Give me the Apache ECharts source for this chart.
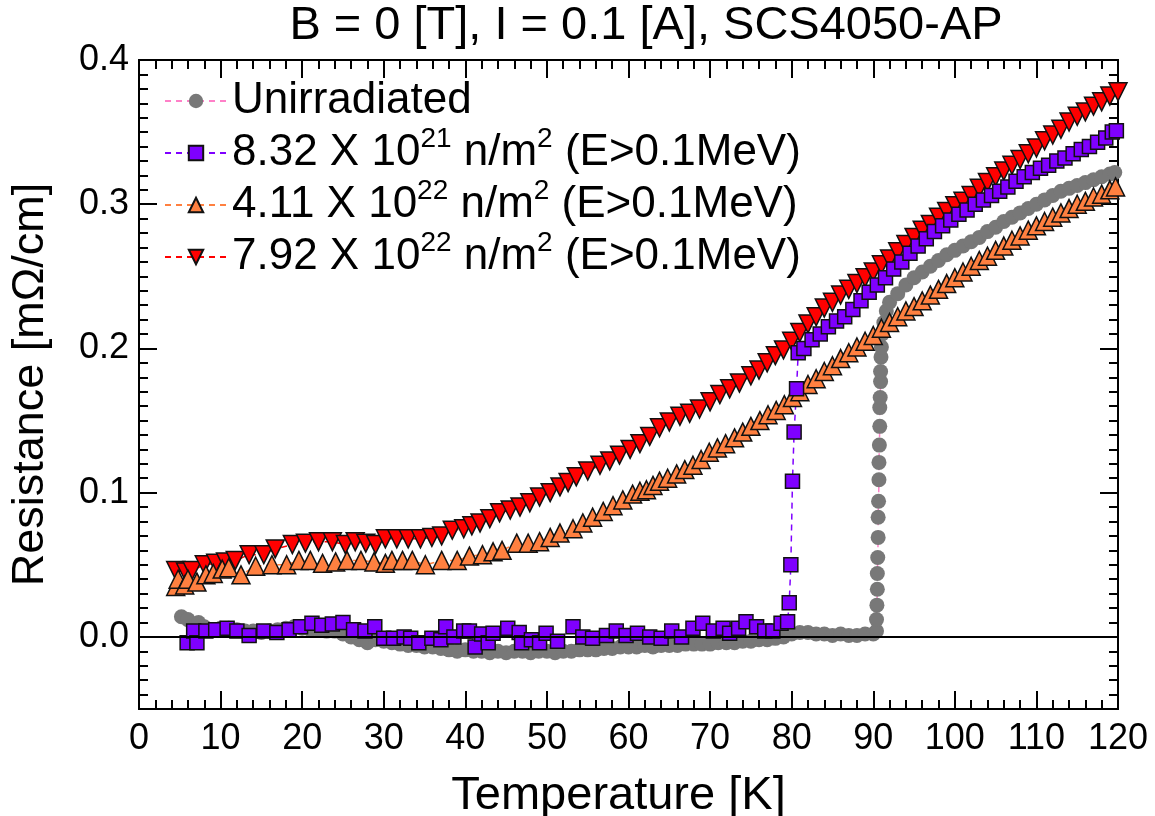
<!DOCTYPE html>
<html>
<head>
<meta charset="utf-8">
<title>SCS4050-AP resistance</title>
<script src="https://cdn.jsdelivr.net/npm/echarts@6/dist/echarts.min.js"></script>
<style>
  html, body { margin: 0; padding: 0; background: #fff; }
  #chart { width: 1155px; height: 816px; }
</style>
</head>
<body>
<div id="chart"></div>
<script>
// [temperature K, resistance mOhm/cm]
const unirradiated = [
  [5.2, 0.014], [6.0, 0.012], [7.3, 0.010], [8, 0.007], [9, 0.005], [10, 0.006], [11, 0.006], [12, 0.005],
  [13, 0.004], [14, 0.004], [15, 0.003], [16, 0.004], [17, 0.005], [18, 0.006], [19, 0.007], [20, 0.006],
  [21, 0.005], [22, 0.005], [23, 0.004], [24, 0.004], [25, 0.002], [26, 0.000], [27, -0.002], [28, -0.004],
  [29, -0.002], [30, -0.003], [31, -0.004], [32, -0.005], [33, -0.006], [34, -0.006], [35, -0.007], [36, -0.007],
  [37, -0.008], [38, -0.009], [39, -0.010], [40, -0.009], [41, -0.010], [42, -0.010], [43, -0.011], [44, -0.010],
  [45, -0.011], [46, -0.010], [47, -0.010], [48, -0.011], [49, -0.010], [50, -0.010], [51, -0.011], [52, -0.010],
  [53, -0.010], [54, -0.009], [55, -0.009], [56, -0.009], [57, -0.008], [58, -0.008], [59, -0.007], [60, -0.007],
  [61, -0.007], [62, -0.006], [63, -0.007], [64, -0.006], [65, -0.006], [66, -0.006], [67, -0.005], [68, -0.005],
  [69, -0.005], [70, -0.005], [71, -0.004], [72, -0.004], [73, -0.004], [74, -0.003], [75, -0.003], [76, -0.002],
  [77, -0.002], [78, -0.001], [79, 0.000], [80, 0.002], [81, 0.003], [82, 0.003], [83, 0.002], [84, 0.002],
  [85, 0.001], [86, 0.002], [87, 0.001], [88, 0.001], [89, 0.002], [90, 0.002],
  [90.4, 0.004], [90.4, 0.012], [90.45, 0.022], [90.5, 0.033], [90.5, 0.044], [90.55, 0.055], [90.6, 0.069],
  [90.6, 0.083], [90.65, 0.094], [90.7, 0.109], [90.7, 0.121], [90.75, 0.133], [90.8, 0.146], [90.8, 0.159],
  [90.85, 0.166], [90.9, 0.177], [90.9, 0.184], [90.95, 0.194], [91.0, 0.201],
  [91.1, 0.210], [91.3, 0.218], [91.6, 0.226], [92, 0.232], [93, 0.238], [94, 0.244], [95, 0.249], [96, 0.253],
  [97, 0.257], [98, 0.261], [99, 0.265], [100, 0.268], [101, 0.271], [102, 0.274], [103, 0.277], [104, 0.281],
  [105, 0.284], [106, 0.288], [107, 0.291], [108, 0.294], [109, 0.297], [110, 0.300], [111, 0.303], [112, 0.306],
  [113, 0.309], [114, 0.311], [115, 0.313], [116, 0.315], [117, 0.317], [118, 0.319], [119, 0.321], [119.6, 0.322]
]

const fluence832e21 = [
  [5.9, -0.004], [6.7, 0.004], [7.1, -0.004], [8.2, 0.004], [9.4, 0.005], [10.8, 0.006], [12.0, 0.004], [13.5, 0.001],
  [15.3, 0.004], [16.9, 0.003], [18.4, 0.005], [19.8, 0.007], [21.2, 0.0095], [22.4, 0.008], [23.7, 0.009], [25.0, 0.010],
  [26.3, 0.005], [27.7, 0.004], [28.9, 0.007], [30.0, -0.001], [31.2, -0.001], [32.5, 0.000], [33.3, -0.001], [34.3, -0.004],
  [35.9, -0.001], [37.0, -0.002], [37.6, 0.007], [38.6, 0.000], [39.8, 0.004], [40.5, 0.004], [41.2, -0.007], [42.0, 0.002],
  [42.8, -0.004], [43.4, 0.0025], [45.2, 0.006], [46.6, 0.003], [46.9, -0.004], [48.1, -0.002], [49.1, -0.004], [49.9, 0.0025],
  [51.3, -0.003], [53.2, 0.007], [54.4, 0.000], [55.6, -0.001], [57.3, 0.001], [58.5, 0.004], [59.7, 0.001], [61.1, 0.0025],
  [62.6, 0.000], [64.0, -0.001], [65.3, 0.004], [66.5, 0.000], [67.9, 0.006], [69.1, 0.0095], [70.4, 0.004], [71.6, 0.006],
  [72.4, 0.0025], [73.5, 0.006], [74.4, 0.0105], [75.7, 0.007], [76.7, 0.004], [77.7, 0.004], [78.7, 0.0095], [79.5, 0.0105],
  [79.7, 0.0236], [79.9, 0.050], [80.1, 0.108], [80.3, 0.142], [80.6, 0.172], [80.8, 0.197],
  [81.5, 0.200], [82.5, 0.206], [83.5, 0.210], [84.5, 0.215], [85.5, 0.219], [86.5, 0.222], [87.5, 0.227], [88.5, 0.233],
  [89.5, 0.239], [90.5, 0.244], [91.5, 0.249], [92.5, 0.255], [93.5, 0.260], [94.5, 0.266], [95.5, 0.271], [96.5, 0.276],
  [97.5, 0.281], [98.5, 0.285], [99.5, 0.289], [100.5, 0.293], [101.5, 0.296], [102.5, 0.300], [103.5, 0.303], [104.5, 0.306],
  [105.5, 0.309], [106.5, 0.312], [107.5, 0.316], [108.5, 0.319], [109.5, 0.322], [110.5, 0.325], [111.5, 0.327], [112.5, 0.330],
  [113.5, 0.332], [114.5, 0.335], [115.5, 0.338], [116.5, 0.340], [117.5, 0.343], [118.5, 0.346], [119.3, 0.350], [119.8, 0.351]
]

const fluence411e22 = [
  [4.5, 0.035], [4.8, 0.040], [5.6, 0.036], [6.0, 0.040], [7.1, 0.038], [8.2, 0.043], [9.1, 0.044], [10.2, 0.047],
  [11.0, 0.048], [12.5, 0.043], [14.3, 0.049], [16.3, 0.050], [18.1, 0.050], [19.6, 0.053], [21.0, 0.053], [22.5, 0.051],
  [24.1, 0.052], [25.5, 0.053], [27.2, 0.053], [28.8, 0.052], [30.2, 0.051], [31.0, 0.053], [32.3, 0.053], [33.5, 0.053],
  [35.1, 0.050], [37.1, 0.053], [39.0, 0.053], [40.5, 0.056], [42.1, 0.057], [43.4, 0.059], [44.5, 0.060], [46.3, 0.065],
  [47.7, 0.065], [49.1, 0.066], [50.4, 0.069], [51.6, 0.072], [53.2, 0.075], [54.4, 0.079], [55.6, 0.083], [56.9, 0.087],
  [58.1, 0.091], [59.3, 0.095], [60.5, 0.099], [61.4, 0.101], [62.2, 0.102], [63.0, 0.105], [63.8, 0.108], [64.8, 0.110],
  [65.9, 0.113], [66.9, 0.116], [67.9, 0.119], [68.9, 0.123], [69.9, 0.128], [70.9, 0.131], [71.9, 0.134], [73.0, 0.138],
  [74.0, 0.142], [75.0, 0.146], [76.1, 0.150], [77.1, 0.154], [78.1, 0.157], [79.1, 0.161], [80.1, 0.166], [81, 0.170],
  [82, 0.175], [83, 0.179], [84, 0.184], [85, 0.188], [86, 0.193], [87, 0.197], [88, 0.201], [89, 0.205],
  [90, 0.209], [91, 0.214], [92, 0.218], [93, 0.222], [94, 0.226], [95, 0.229], [96, 0.233], [97, 0.237],
  [98, 0.241], [99, 0.245], [100, 0.249], [101, 0.253], [102, 0.257], [103, 0.261], [104, 0.264], [105, 0.268],
  [106, 0.271], [107, 0.275], [108, 0.278], [109, 0.282], [110, 0.285], [111, 0.288], [112, 0.291], [113, 0.294],
  [114, 0.297], [115, 0.300], [116, 0.302], [117, 0.305], [118, 0.307], [119, 0.310], [119.7, 0.312]
]

const fluence792e22 = [
  [4.5, 0.046], [5.7, 0.045], [6.5, 0.046], [8.0, 0.050], [9.4, 0.051], [10.6, 0.052], [11.8, 0.053], [13.5, 0.057],
  [15.3, 0.057], [16.7, 0.061], [18.8, 0.064], [20.4, 0.065], [22.0, 0.066], [23.7, 0.066], [25.3, 0.064], [26.5, 0.066],
  [27.8, 0.065], [29.0, 0.064], [30.2, 0.068], [31.6, 0.068], [33.0, 0.068], [34.5, 0.068], [35.9, 0.069], [37.1, 0.070],
  [38.4, 0.074], [39.8, 0.075], [40.8, 0.077], [41.8, 0.079], [43.0, 0.082], [44.2, 0.086], [45.5, 0.088], [46.7, 0.090],
  [47.9, 0.093], [49.1, 0.097], [50.4, 0.100], [51.6, 0.104], [52.6, 0.107], [53.6, 0.111], [55.0, 0.115], [56.5, 0.119],
  [57.7, 0.122], [58.9, 0.126], [60.2, 0.130], [61.4, 0.134], [62.6, 0.139], [63.8, 0.145], [65.0, 0.149], [66.3, 0.153],
  [67.5, 0.155], [68.7, 0.158], [70.0, 0.163], [71.2, 0.168], [72.4, 0.172], [73.6, 0.176], [75.0, 0.181], [76.0, 0.185],
  [77.0, 0.190], [78.0, 0.195], [79.0, 0.199], [80.0, 0.205], [81, 0.211], [82, 0.217], [83, 0.222], [84, 0.228],
  [85, 0.232], [86, 0.237], [87, 0.241], [88, 0.245], [89, 0.249], [90, 0.253], [91, 0.258], [92, 0.262],
  [93, 0.267], [94, 0.272], [95, 0.277], [96, 0.282], [97, 0.286], [98, 0.291], [99, 0.295], [100, 0.299],
  [101, 0.302], [102, 0.306], [103, 0.311], [104, 0.315], [105, 0.319], [106, 0.323], [107, 0.327], [108, 0.331],
  [109, 0.335], [110, 0.339], [111, 0.344], [112, 0.348], [113, 0.352], [114, 0.357], [115, 0.361], [116, 0.364],
  [117, 0.368], [118, 0.371], [119, 0.375], [120, 0.378]
]

const seriesNames = ['Unirradiated', '8.32e21', '4.11e22', '7.92e22']
// legend text: [mantissa, exponent]
const legendParts = {
  '8.32e21': ['8.32', '21'],
  '4.11e22': ['4.11', '22'],
  '7.92e22': ['7.92', '22']
}

const FONT = 'Liberation Sans, Arial, sans-serif'
const chart = echarts.init(document.getElementById('chart'))

const majorTickX = { show: true, inside: true, length: 18, lineStyle: { color: '#000', width: 2 } }
const minorTickX = { show: true, splitNumber: 5, length: 9, lineStyle: { color: '#000', width: 2 } }

function yAxisBase (position, major, withLabels) {
  const ax = {
    type: 'value',
    position: position,
    min: -0.05,
    max: 0.4,
    axisLine: { show: true, onZero: false, lineStyle: { color: '#000', width: 2 } },
    axisTick: { show: true, inside: true, length: major ? 18 : 9, lineStyle: { color: '#000', width: 2 } },
    splitLine: { show: false },
    axisLabel: { show: false }
  }
  if (major) {
    ax.splitNumber = 5
  } else {
    ax.interval = 0.01
  }
  if (withLabels) {
    ax.axisLabel = {
      show: true,
      margin: 10,
      color: '#000',
      fontFamily: FONT,
      fontSize: 36,
      formatter: v => (v < -1e-9 ? '' : v.toFixed(1))
    }
    ax.name = 'Resistance [m\u03A9/cm]'
    ax.nameLocation = 'middle'
    ax.nameGap = 86
    ax.nameTextStyle = { color: '#000', fontFamily: FONT, fontSize: 45 }
  }
  return ax
}

function lineSeries (name, data, opts) {
  return Object.assign({
    name: name,
    type: 'line',
    data: data,
    xAxisIndex: 0,
    yAxisIndex: 0,
    showAllSymbol: true,
    lineStyle: { width: 1.5, type: [6, 5] }
  }, opts)
}

const option = {
  animation: false,
  backgroundColor: '#fff',
  title: {
    text: 'B = 0 [T], I = 0.1 [A], SCS4050-AP',
    left: 641,
    top: -2,
    textAlign: 'center',
    textStyle: { color: '#000', fontFamily: FONT, fontSize: 47, fontWeight: 'normal' }
  },
  grid: { left: 139, right: 37, top: 60, bottom: 107, containLabel: false, outerBoundsMode: 'none' },
  legend: {
    orient: 'vertical',
    left: 159,
    top: 68,
    itemWidth: 62,
    itemHeight: 18,
    itemGap: -4,
    data: seriesNames,
    selectedMode: false,
    formatter: name => {
      // the empty superscript keeps every row the same height
      if (name === 'Unirradiated') return '{a|Unirradiated}{s| }'
      const p = legendParts[name]
      return '{a|' + p[0] + ' X 10}{s|' + p[1] + '}{a| n/m}{s|2}{a| (E>0.1MeV)}'
    },
    textStyle: {
      color: '#000',
      fontFamily: FONT,
      fontSize: 44,
      rich: {
        a: { fontFamily: FONT, fontSize: 44, lineHeight: 48, color: '#000' },
        s: { fontFamily: FONT, fontSize: 28, lineHeight: 20, padding: [0, 0, 28, 0], color: '#000' }
      }
    }
  },
  xAxis: [
    {
      type: 'value',
      position: 'bottom',
      min: 0,
      max: 120,
      interval: 10,
      axisLine: { show: true, onZero: false, lineStyle: { color: '#000', width: 2 } },
      axisTick: majorTickX,
      minorTick: minorTickX,
      splitLine: { show: false },
      axisLabel: { color: '#000', fontFamily: FONT, fontSize: 36, margin: 12 },
      name: 'Temperature [K]',
      nameLocation: 'middle',
      nameGap: 64,
      nameTextStyle: { color: '#000', fontFamily: FONT, fontSize: 47, padding: [0, 20, 0, 0] }
    },
    {
      type: 'value',
      position: 'top',
      min: 0,
      max: 120,
      interval: 10,
      axisLine: { show: true, onZero: false, lineStyle: { color: '#000', width: 2 } },
      axisTick: majorTickX,
      minorTick: minorTickX,
      splitLine: { show: false },
      axisLabel: { show: false }
    }
  ],
  yAxis: [
    yAxisBase('left', true, true),
    yAxisBase('left', false, false),
    yAxisBase('right', true, false),
    yAxisBase('right', false, false)
  ],
  series: [
    lineSeries('Unirradiated', unirradiated, {
      symbol: 'circle',
      symbolSize: 15,
      itemStyle: { color: '#787878', borderWidth: 0 },
      lineStyle: { width: 1.5, type: [6, 5], color: '#ff80c8' },
      markLine: {
        silent: true,
        symbol: 'none',
        label: { show: false },
        lineStyle: { color: '#000', width: 2, type: 'solid' },
        data: [{ yAxis: 0 }]
      }
    }),
    lineSeries('7.92e22', fluence792e22, {
      symbol: 'triangle',
      symbolRotate: 180,
      symbolSize: 18,
      itemStyle: { color: '#ff0000', borderColor: '#111', borderWidth: 1.5 },
      lineStyle: { width: 1.5, type: [6, 5], color: '#ff0000' }
    }),
    lineSeries('4.11e22', fluence411e22, {
      symbol: 'triangle',
      symbolSize: 18,
      itemStyle: { color: '#ff8040', borderColor: '#111', borderWidth: 1.5 },
      lineStyle: { width: 1.5, type: [6, 5], color: '#ff8040' }
    }),
    lineSeries('8.32e21', fluence832e21, {
      symbol: 'rect',
      symbolSize: 14,
      itemStyle: { color: '#7f00ff', borderColor: '#111', borderWidth: 1.5 },
      lineStyle: { width: 1.5, type: [6, 5], color: '#7f00ff' }
    })
  ]
}

chart.setOption(option)
</script>
</body>
</html>
